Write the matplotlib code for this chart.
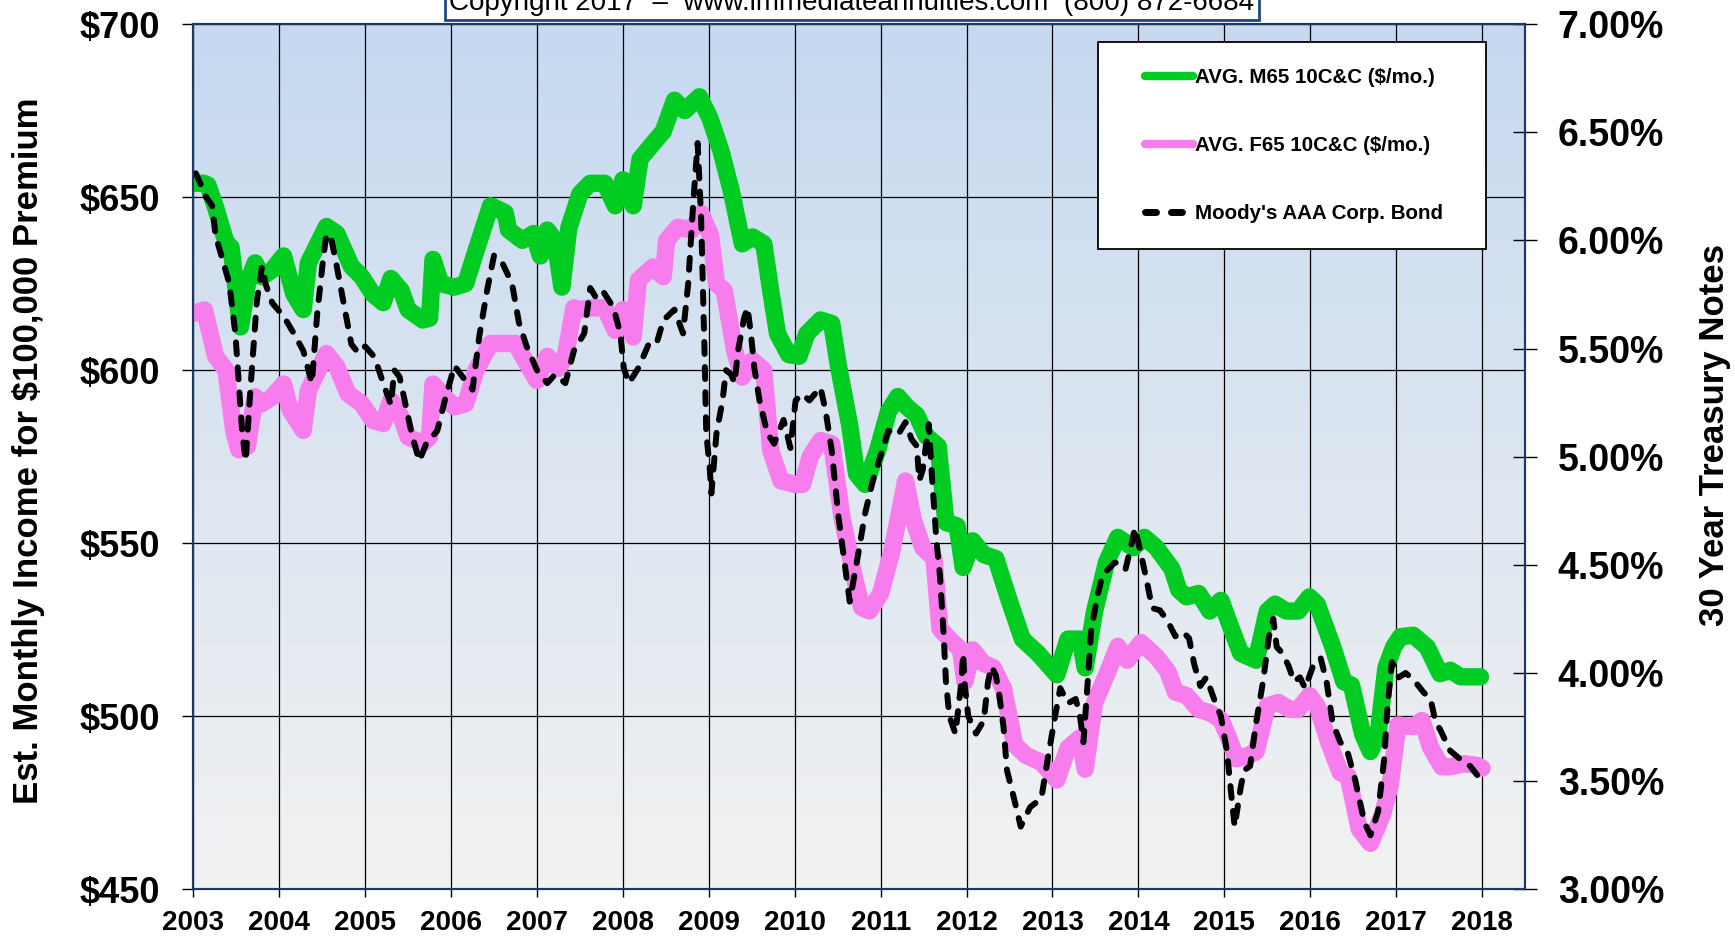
import numpy as np
import matplotlib
matplotlib.use("Agg")
import matplotlib.pyplot as plt
from matplotlib.colors import LinearSegmentedColormap
from matplotlib.legend_handler import HandlerLine2D

# Average monthly income, male 65, 10 year certain & continuous ($/mo.)
m65_year = [2003.00, 2003.12, 2003.17, 2003.26, 2003.38, 2003.44, 2003.55, 2003.63, 2003.72, 2003.80,
            2003.92, 2004.05, 2004.17, 2004.28, 2004.34, 2004.55, 2004.67, 2004.84, 2004.96, 2005.09,
            2005.21, 2005.30, 2005.42, 2005.50, 2005.67, 2005.75, 2005.79, 2005.88, 2006.04, 2006.17,
            2006.29, 2006.46, 2006.63, 2006.67, 2006.83, 2006.96, 2007.04, 2007.12, 2007.21, 2007.29,
            2007.37, 2007.50, 2007.62, 2007.79, 2007.91, 2008.00, 2008.12, 2008.20, 2008.35, 2008.47,
            2008.60, 2008.72, 2008.89, 2009.01, 2009.14, 2009.26, 2009.39, 2009.51, 2009.64, 2009.72,
            2009.80, 2009.93, 2010.05, 2010.14, 2010.30, 2010.43, 2010.51, 2010.64, 2010.72, 2010.82,
            2010.96, 2011.09, 2011.20, 2011.31, 2011.42, 2011.53, 2011.67, 2011.76, 2011.89, 2011.96,
            2012.07, 2012.20, 2012.34, 2012.51, 2012.65, 2012.83, 2013.05, 2013.18, 2013.32, 2013.38,
            2013.49, 2013.63, 2013.76, 2013.94, 2014.07, 2014.21, 2014.39, 2014.47, 2014.56, 2014.70,
            2014.83, 2014.96, 2015.05, 2015.19, 2015.37, 2015.50, 2015.59, 2015.72, 2015.86, 2015.99,
            2016.08, 2016.26, 2016.39, 2016.48, 2016.61, 2016.70, 2016.79, 2016.88, 2016.97, 2017.05,
            2017.20, 2017.36, 2017.51, 2017.63, 2017.75, 2017.98]
m65_income = [654, 654, 653.5, 647, 637, 635.5, 612.5, 625, 631, 627,
              629, 633, 622, 617.5, 631, 641.5, 639.5, 630, 627, 622,
              619.5, 626.5, 623, 617.5, 614.5, 615, 632, 625, 624, 625,
              634.5, 647.5, 645.5, 640.5, 637.5, 639.5, 633, 640.5, 637.5, 624,
              641, 651, 654, 654, 647.5, 655, 647.5, 661, 665.5, 669,
              678, 675, 679, 673, 663.5, 652, 636.5, 638.5, 636.5, 623,
              610.5, 604.5, 604, 610.5, 614.5, 613.5, 601, 584, 570, 567,
              576.5, 588, 592.4, 589.3, 587, 581, 578, 556, 555, 543,
              550.7, 546.7, 545.6, 532.4, 522.3, 518.2, 512, 522.3, 522.3, 514,
              530.4, 544.6, 551.7, 548.7, 551.7, 548.7, 542.6, 536.5, 534.5, 535.5,
              530.4, 533.5, 527.4, 518.2, 516.2, 530.4, 532.4, 530.4, 530.4, 534.5,
              532.4, 520.2, 510, 509, 494.8, 489.8, 494.8, 514, 520, 523,
              523.4, 520, 512.3, 513.3, 511.4, 511.4]

# Average monthly income, female 65, 10 year certain & continuous ($/mo.)
f65_year = [2003.00, 2003.13, 2003.26, 2003.38, 2003.47, 2003.53, 2003.63, 2003.72, 2003.80, 2003.92,
            2004.05, 2004.13, 2004.28, 2004.34, 2004.55, 2004.67, 2004.80, 2004.96, 2005.09, 2005.21,
            2005.30, 2005.42, 2005.50, 2005.67, 2005.75, 2005.79, 2005.92, 2006.04, 2006.17, 2006.29,
            2006.46, 2006.63, 2006.75, 2006.88, 2007.00, 2007.12, 2007.25, 2007.33, 2007.43, 2007.50,
            2007.62, 2007.79, 2007.91, 2008.00, 2008.12, 2008.18, 2008.35, 2008.47, 2008.51, 2008.64,
            2008.80, 2008.91, 2009.02, 2009.09, 2009.18, 2009.30, 2009.39, 2009.51, 2009.64, 2009.72,
            2009.84, 2010.01, 2010.09, 2010.18, 2010.30, 2010.43, 2010.55, 2010.69, 2010.78, 2010.87,
            2011.00, 2011.13, 2011.22, 2011.29, 2011.38, 2011.49, 2011.62, 2011.69, 2011.80, 2011.93,
            2011.98, 2012.07, 2012.20, 2012.31, 2012.43, 2012.56, 2012.69, 2012.87, 2013.05, 2013.18,
            2013.32, 2013.38, 2013.49, 2013.63, 2013.76, 2013.87, 2014.03, 2014.21, 2014.34, 2014.43,
            2014.56, 2014.70, 2014.83, 2014.96, 2015.05, 2015.14, 2015.28, 2015.37, 2015.50, 2015.63,
            2015.76, 2015.86, 2015.99, 2016.08, 2016.21, 2016.35, 2016.44, 2016.57, 2016.70, 2016.84,
            2016.93, 2017.02, 2017.20, 2017.30, 2017.40, 2017.53, 2017.63, 2017.79, 2017.94, 2018.00]
f65_income = [616.4, 617.4, 604, 600, 582.6, 577, 578, 592.3, 590.3, 592.3,
              596, 588.4, 582.6, 594.2, 604.8, 601, 593.2, 590.3, 585.5, 584.6,
              591.3, 586.5, 580.7, 578.8, 580.7, 596, 592.3, 589.4, 590.3, 600,
              607.7, 607.7, 607.7, 602, 597, 604, 600.5, 604, 618, 617.5,
              618, 618, 611.5, 617.5, 609.6, 626, 629.8, 627, 637.5, 641.3,
              640.5, 645.3, 639, 625, 623, 605.7, 598, 602.8, 600, 576.8,
              568, 567, 567, 575, 579.7, 578.7, 557.5, 540.6, 531.4, 530.4,
              535.5, 547.7, 558.9, 568, 556.8, 548.7, 545.6, 525.3, 522.3, 519.2,
              510, 519.2, 515.2, 514.1, 508, 491.8, 488.7, 486.7, 481.6, 490.8,
              493.8, 484.7, 504, 512, 520.2, 516.2, 521.3, 517.2, 513.1, 507,
              506, 502, 501, 499, 493.8, 487.7, 488.7, 489.8, 503, 504,
              502, 502, 506, 503, 492.8, 483.7, 482.7, 467.4, 463.3, 471.5,
              480, 497.5, 497, 498.8, 491, 485.4, 485.4, 486.3, 485.8, 485]

# Moody's AAA corporate bond yield (%), right axis
aaa_year = [2003.03, 2003.15, 2003.22, 2003.26, 2003.32, 2003.42, 2003.49, 2003.53, 2003.57, 2003.61,
            2003.67, 2003.74, 2003.80, 2003.84, 2003.92, 2004.05, 2004.17, 2004.28, 2004.38, 2004.44,
            2004.51, 2004.55, 2004.61, 2004.67, 2004.75, 2004.84, 2004.92, 2005.00, 2005.11, 2005.21,
            2005.30, 2005.34, 2005.40, 2005.46, 2005.54, 2005.63, 2005.71, 2005.84, 2005.94, 2006.04,
            2006.17, 2006.25, 2006.33, 2006.42, 2006.50, 2006.58, 2006.71, 2006.79, 2006.88, 2007.00,
            2007.12, 2007.21, 2007.33, 2007.43, 2007.55, 2007.62, 2007.68, 2007.76, 2007.89, 2007.97,
            2008.01, 2008.07, 2008.18, 2008.30, 2008.39, 2008.47, 2008.60, 2008.70, 2008.76, 2008.82,
            2008.87, 2008.91, 2008.95, 2008.97, 2009.01, 2009.03, 2009.09, 2009.16, 2009.20, 2009.26,
            2009.30, 2009.34, 2009.41, 2009.45, 2009.49, 2009.53, 2009.59, 2009.68, 2009.76, 2009.87,
            2009.95, 2010.01, 2010.09, 2010.17, 2010.30, 2010.36, 2010.43, 2010.51, 2010.64, 2010.73,
            2010.82, 2010.91, 2011.09, 2011.20, 2011.29, 2011.36, 2011.42, 2011.45, 2011.49, 2011.56,
            2011.60, 2011.65, 2011.69, 2011.73, 2011.76, 2011.80, 2011.87, 2011.94, 2011.96, 2011.98,
            2012.02, 2012.11, 2012.20, 2012.25, 2012.29, 2012.34, 2012.38, 2012.43, 2012.47, 2012.54,
            2012.63, 2012.74, 2012.87, 2012.96, 2013.03, 2013.09, 2013.18, 2013.27, 2013.32, 2013.36,
            2013.41, 2013.45, 2013.52, 2013.58, 2013.72, 2013.78, 2013.85, 2013.91, 2013.96, 2014.03,
            2014.10, 2014.16, 2014.25, 2014.34, 2014.43, 2014.52, 2014.59, 2014.65, 2014.72, 2014.79,
            2014.88, 2014.96, 2015.03, 2015.08, 2015.12, 2015.19, 2015.23, 2015.30, 2015.37, 2015.45,
            2015.52, 2015.57, 2015.61, 2015.68, 2015.75, 2015.81, 2015.88, 2015.94, 2016.03, 2016.12,
            2016.19, 2016.26, 2016.35, 2016.43, 2016.52, 2016.63, 2016.70, 2016.79, 2016.86, 2016.90,
            2016.95, 2017.03, 2017.11, 2017.20, 2017.32, 2017.40, 2017.46, 2017.51, 2017.63, 2017.75,
            2017.86, 2017.96]
aaa_rate = [6.31, 6.20, 6.16, 6.02, 5.94, 5.80, 5.57, 5.34, 5.11, 4.98,
            5.34, 5.72, 5.88, 5.80, 5.71, 5.65, 5.57, 5.49, 5.34, 5.65,
            5.91, 6.03, 6.00, 5.88, 5.71, 5.52, 5.48, 5.51, 5.46, 5.34,
            5.24, 5.40, 5.37, 5.26, 5.11, 4.98, 5.06, 5.12, 5.28, 5.42,
            5.35, 5.31, 5.56, 5.77, 5.93, 5.91, 5.80, 5.62, 5.51, 5.40,
            5.34, 5.38, 5.34, 5.49, 5.57, 5.78, 5.74, 5.77, 5.69, 5.57,
            5.41, 5.34, 5.41, 5.52, 5.52, 5.63, 5.68, 5.57, 5.80, 6.18,
            6.45, 6.11, 5.49, 5.11, 4.95, 4.83, 5.11, 5.26, 5.40, 5.38,
            5.34, 5.49, 5.64, 5.69, 5.57, 5.41, 5.26, 5.11, 5.06, 5.17,
            5.04, 5.26, 5.29, 5.26, 5.32, 5.21, 5.03, 4.72, 4.33, 4.53,
            4.74, 4.89, 5.12, 5.10, 5.16, 5.08, 5.05, 4.89, 4.94, 5.15,
            4.89, 4.61, 4.45, 4.20, 3.96, 3.80, 3.72, 3.96, 4.09, 3.94,
            3.80, 3.72, 3.78, 3.96, 4.03, 3.99, 3.90, 3.75, 3.55, 3.44,
            3.29, 3.38, 3.42, 3.64, 3.80, 3.93, 3.86, 3.88, 3.80, 3.68,
            3.96, 4.20, 4.35, 4.45, 4.51, 4.51, 4.48, 4.58, 4.67, 4.55,
            4.42, 4.30, 4.29, 4.24, 4.17, 4.19, 4.16, 4.04, 3.94, 3.98,
            3.88, 3.80, 3.64, 3.44, 3.29, 3.47, 3.55, 3.57, 3.77, 3.96,
            4.17, 4.25, 4.12, 4.09, 4.03, 3.96, 3.98, 3.93, 4.03, 4.07,
            3.96, 3.77, 3.68, 3.64, 3.51, 3.31, 3.25, 3.36, 3.60, 3.85,
            4.05, 3.98, 4.00, 3.97, 3.91, 3.88, 3.77, 3.74, 3.64, 3.60,
            3.57, 3.52]

years = list(range(2003, 2019))
income_ticks = [450, 500, 550, 600, 650, 700]
rate_ticks = [3.0, 3.5, 4.0, 4.5, 5.0, 5.5, 6.0, 6.5, 7.0]

plt.rcParams['font.family'] = ['Liberation Sans', 'DejaVu Sans']
plt.rcParams['font.weight'] = 'bold'

fig = plt.figure(figsize=(17.35, 9.4), dpi=100)
ax = fig.add_axes([0.1114, 0.0539, 0.7676, 0.9205])

# blue-to-grey gradient behind the plot
bg = LinearSegmentedColormap.from_list('bg', ['#f2f2f2', '#c6d9f0'])
ax.imshow(np.linspace(0, 1, 256).reshape(-1, 1), cmap=bg, origin='lower',
          extent=[2003, 2018.5, 450, 700], aspect='auto', zorder=0)

green, = ax.plot(m65_year, m65_income, color='#00cc22', lw=12.5,
                 solid_capstyle='round', solid_joinstyle='round', zorder=3,
                 label='AVG. M65 10C&C ($/mo.)')
pink, = ax.plot(f65_year, f65_income, color='#f77cec', lw=12.5,
                solid_capstyle='round', solid_joinstyle='round', zorder=2,
                label='AVG. F65 10C&C ($/mo.)')

ax.set_xlim(2003, 2018.5)
ax.set_ylim(450, 700)
ax.set_xticks(years)
ax.set_xticklabels([str(y) for y in years])
ax.set_yticks(income_ticks)
ax.set_yticklabels(['$%d' % v for v in income_ticks])
ax.grid(True, color='black', lw=0.9)
ax.set_axisbelow(True)
ax.tick_params(axis='x', direction='out', length=5.8, width=1, labelsize=20, pad=9)
ax.tick_params(axis='y', direction='out', length=7.7, width=1, labelsize=26, pad=16)

ax2 = ax.twinx()
black, = ax2.plot(aaa_year, aaa_rate, color='black', lw=4.3, ls=(0, (2.0, 2.2)),
                  dash_capstyle='round', dash_joinstyle='round',
                  label="Moody's AAA Corp. Bond")
ax2.set_ylim(3, 7)
ax2.set_yticks(rate_ticks)
ax2.set_yticklabels(['%.2f%%' % r for r in rate_ticks])
ax2.tick_params(axis='y', direction='inout', length=17, width=1, labelsize=27, pad=15)

for a in (ax, ax2):
    for s in a.spines.values():
        s.set_color('#1b3a63')
        s.set_linewidth(1.5)

fig.text(0.0165, 0.52, 'Est. Monthly Income for $100,000 Premium', rotation=90,
         ha='center', va='center', fontsize=25)
fig.text(0.988, 0.537, '30 Year Treasury Notes', rotation=90,
         ha='center', va='center', fontsize=25)

leg = ax2.legend(handles=[green, pink, black], loc='upper left', mode='expand',
                 bbox_to_anchor=(0.6794, 0.5, 0.2914, 0.4792), borderaxespad=0,
                 fontsize=14.8, handlelength=3.35, handletextpad=0.1,
                 labelspacing=2.4, borderpad=1.25, fancybox=False,
                 framealpha=1, edgecolor='black',
                 handler_map={green: HandlerLine2D(xpad=1.05),
                              pink: HandlerLine2D(xpad=1.05),
                              black: HandlerLine2D(xpad=1.05)})
leg.get_frame().set_linewidth(1.3)
for h, w in zip(leg.legend_handles, [6, 6, 5]):
    h.set_linewidth(w)
leg.legend_handles[2].set_linestyle((0, (1.58, 2.16)))

fig.text(0.491, 1 - 10 / 940, 'Copyright 2017  \u2013  www.immediateannuities.com  (800) 872-6684',
         ha='center', va='baseline', fontsize=20, fontweight='normal',
         bbox=dict(boxstyle='square,pad=0.15', facecolor='white', edgecolor='#1f497d', lw=2))

fig.savefig('out.png', dpi=100)
